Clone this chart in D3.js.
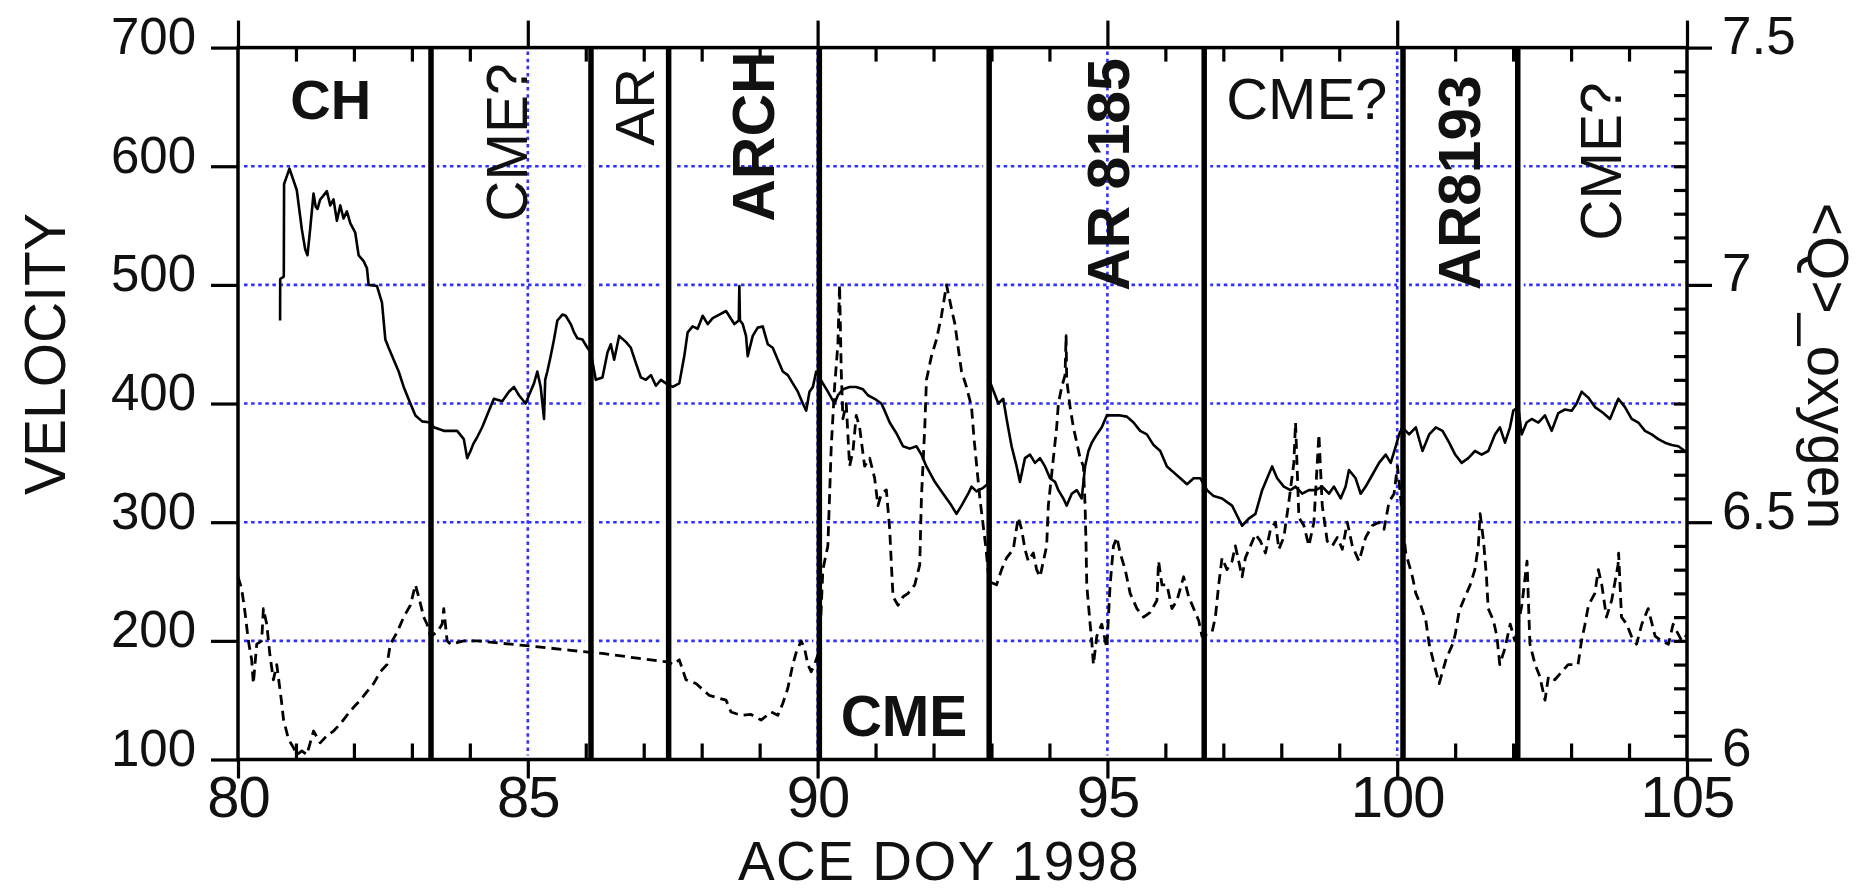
<!DOCTYPE html>
<html>
<head>
<meta charset="utf-8">
<script src="https://cdn.jsdelivr.net/npm/d3@7"></script>
<style>
  html, body { margin: 0; padding: 0; background: #fff; }
  svg { display: block; }
  text { font-family: "Liberation Sans", Arial, Helvetica, sans-serif; fill: #111; }
</style>
</head>
<body>
<script>
// ACE solar wind speed (km/s) vs day of year 1998
const velocity = [
  [80.726,470],[80.728,505],[80.790,507],[80.795,585],[80.888,598],[81.014,580],[81.101,547],[81.159,530],
  [81.199,525],[81.245,547],[81.303,577],[81.340,566],[81.372,564],[81.418,572],[81.470,575],[81.533,579],
  [81.591,567],[81.648,572],[81.706,554],[81.764,567],[81.821,556],[81.879,562],[81.937,552],[82.023,544],
  [82.081,525],[82.167,520],[82.225,514],[82.254,500],[82.398,499],[82.484,485],[82.542,454],[82.599,447],
  [82.686,437],[82.772,427],[82.859,414],[82.974,400],[83.061,390],[83.176,385],[83.320,384],[83.378,380],
  [83.550,377],[83.781,377],[83.896,370],[83.954,354],[84.012,360],[84.060,366],[84.130,372],[84.213,380],
  [84.329,394],[84.415,404],[84.559,402],[84.674,410],[84.761,414],[84.847,407],[84.963,400],[85.020,407],
  [85.107,417],[85.164,427],[85.222,414],[85.280,387],[85.300,420],[85.337,427],[85.395,440],[85.452,454],
  [85.510,470],[85.597,475],[85.654,474],[85.741,467],[85.798,460],[85.856,455],[85.942,454],[86.029,447],
  [86.087,443],[86.173,420],[86.288,422],[86.375,443],[86.432,450],[86.490,437],[86.576,457],[86.692,452],
  [86.778,447],[86.865,434],[86.951,422],[87.037,420],[87.124,424],[87.210,415],[87.297,420],[87.383,417],
  [87.499,414],[87.614,417],[87.700,440],[87.758,460],[87.844,465],[87.931,463],[88.017,474],[88.104,467],
  [88.190,472],[88.305,475],[88.420,478],[88.564,467],[88.640,470],[88.650,499],[88.660,470],[88.708,467],
  [88.765,457],[88.794,440],[88.881,457],[88.967,464],[89.053,465],[89.140,450],[89.226,447],[89.313,437],
  [89.399,427],[89.486,424],[89.572,417],[89.659,410],[89.745,400],[89.803,394],[89.860,410],[89.918,414],
  [89.976,427],[90.030,422],[90.091,417],[90.177,410],[90.293,400],[90.350,407],[90.437,412],[90.552,414],
  [90.667,414],[90.783,412],[90.869,407],[90.984,404],[91.100,400],[91.157,394],[91.244,384],[91.359,375],
  [91.474,364],[91.590,362],[91.705,364],[91.791,357],[91.878,347],[92.022,334],[92.166,324],[92.310,314],
  [92.396,307],[92.483,314],[92.598,324],[92.656,330],[92.742,326],[92.857,329],[92.930,332],[92.960,420],
  [93.040,410],[93.117,400],[93.203,404],[93.261,387],[93.347,364],[93.434,347],[93.491,334],[93.578,354],
  [93.664,357],[93.751,350],[93.837,354],[93.923,347],[94.010,337],[94.096,334],[94.154,327],[94.240,320],
  [94.298,314],[94.385,324],[94.471,327],[94.557,320],[94.615,347],[94.673,360],[94.730,367],[94.817,374],
  [94.903,380],[94.990,390],[95.105,390],[95.220,390],[95.336,389],[95.451,384],[95.566,377],[95.681,374],
  [95.797,365],[95.912,360],[96.027,347],[96.143,342],[96.258,337],[96.373,332],[96.488,337],[96.604,337],
  [96.719,327],[96.834,322],[96.978,320],[97.151,314],[97.324,297],[97.439,303],[97.554,307],[97.670,327],
  [97.756,337],[97.842,347],[97.929,337],[98.044,330],[98.159,327],[98.246,330],[98.361,324],[98.476,327],
  [98.592,327],[98.707,330],[98.822,324],[98.909,330],[99.024,320],[99.110,330],[99.168,344],[99.283,337],
  [99.370,324],[99.456,330],[99.572,340],[99.687,350],[99.802,357],[99.888,350],[99.975,364],[100.033,374],
  [100.090,380],[100.206,374],[100.321,380],[100.436,360],[100.552,374],[100.667,380],[100.782,377],[100.897,367],
  [101.000,357],[101.112,350],[101.227,354],[101.342,360],[101.457,357],[101.572,360],[101.687,374],[101.773,380],
  [101.860,367],[101.946,380],[102.003,394],[102.090,397],[102.147,374],[102.233,384],[102.320,387],[102.435,384],
  [102.550,390],[102.665,377],[102.780,392],[102.895,395],[103.010,394],[103.096,400],[103.182,410],[103.297,405],
  [103.412,397],[103.556,392],[103.671,387],[103.815,404],[103.930,397],[104.045,387],[104.160,384],[104.275,377],
  [104.390,374],[104.505,370],[104.620,367],[104.735,365],[104.850,364],[104.965,360]
];

// mean oxygen charge state <Q>_oxygen vs day of year
const oxygenQ = [
  [80.000,6.385],[80.063,6.360],[80.121,6.310],[80.179,6.250],[80.236,6.210],[80.265,6.160],[80.323,6.243],[80.409,6.250],
  [80.438,6.318],[80.496,6.285],[80.553,6.218],[80.611,6.168],[80.669,6.200],[80.755,6.118],[80.784,6.085],[80.870,6.043],
  [80.957,6.025],[81.014,6.010],[81.101,6.018],[81.187,6.010],[81.303,6.060],[81.418,6.035],[81.533,6.050],[81.648,6.060],
  [81.764,6.075],[81.879,6.093],[81.994,6.110],[82.110,6.125],[82.225,6.143],[82.340,6.160],[82.455,6.185],[82.571,6.200],
  [82.628,6.243],[82.744,6.268],[82.859,6.300],[82.974,6.325],[83.061,6.368],[83.118,6.343],[83.205,6.300],[83.262,6.285],
  [83.320,6.260],[83.435,6.268],[83.522,6.285],[83.550,6.318],[83.608,6.250],[83.666,6.243],[83.896,6.250],[84.127,6.250],
  [84.530,6.245],[85.135,6.238],[85.741,6.230],[86.317,6.223],[86.922,6.213],[87.441,6.205],[87.499,6.200],[87.614,6.210],
  [87.729,6.168],[87.902,6.160],[88.133,6.135],[88.421,6.125],[88.506,6.100],[88.679,6.093],[88.852,6.095],[89.025,6.083],
  [89.198,6.100],[89.313,6.093],[89.399,6.118],[89.486,6.150],[89.572,6.200],[89.630,6.225],[89.716,6.250],[89.774,6.235],
  [89.832,6.200],[89.889,6.185],[89.947,6.200],[90.030,6.230],[90.091,6.400],[90.177,6.450],[90.235,6.658],[90.293,6.785],
  [90.350,6.875],[90.379,7.000],[90.408,6.818],[90.437,6.718],[90.494,6.750],[90.552,6.618],[90.610,6.650],[90.667,6.725],
  [90.725,6.700],[90.811,6.618],[90.898,6.635],[90.984,6.593],[91.042,6.535],[91.100,6.560],[91.186,6.568],[91.244,6.485],
  [91.273,6.410],[91.302,6.343],[91.388,6.325],[91.474,6.343],[91.561,6.350],[91.676,6.368],[91.762,6.410],[91.791,6.550],
  [91.849,6.700],[91.878,6.800],[91.964,6.850],[92.051,6.885],[92.137,6.935],[92.224,7.000],[92.310,6.950],[92.368,6.918],
  [92.425,6.868],[92.483,6.818],[92.569,6.785],[92.656,6.743],[92.700,6.675],[92.800,6.550],[92.900,6.450],[92.960,6.375],
  [93.088,6.368],[93.174,6.400],[93.261,6.425],[93.376,6.443],[93.462,6.510],[93.520,6.485],[93.578,6.443],[93.635,6.418],
  [93.722,6.435],[93.779,6.400],[93.837,6.385],[93.952,6.450],[93.981,6.535],[94.068,6.635],[94.125,6.700],[94.154,6.750],
  [94.212,6.785],[94.269,6.810],[94.287,6.893],[94.298,6.800],[94.356,6.743],[94.413,6.700],[94.471,6.668],[94.529,6.635],
  [94.586,6.618],[94.615,6.535],[94.632,6.450],[94.644,6.368],[94.702,6.285],[94.730,6.250],[94.759,6.200],[94.817,6.260],
  [94.903,6.285],[94.990,6.235],[95.047,6.368],[95.105,6.450],[95.163,6.468],[95.220,6.435],[95.307,6.400],[95.393,6.350],
  [95.509,6.318],[95.624,6.300],[95.739,6.310],[95.854,6.335],[95.883,6.418],[95.941,6.368],[96.027,6.368],[96.114,6.318],
  [96.200,6.335],[96.315,6.385],[96.402,6.343],[96.488,6.318],[96.575,6.293],[96.632,6.260],[96.805,6.268],[96.863,6.300],
  [96.920,6.368],[96.978,6.425],[97.064,6.400],[97.151,6.418],[97.208,6.450],[97.324,6.385],[97.381,6.425],[97.468,6.450],
  [97.554,6.475],[97.641,6.460],[97.727,6.435],[97.814,6.485],[97.900,6.500],[97.958,6.443],[98.044,6.468],[98.131,6.543],
  [98.217,6.625],[98.246,6.710],[98.304,6.510],[98.390,6.493],[98.476,6.450],[98.563,6.500],[98.649,6.685],[98.707,6.535],
  [98.793,6.460],[98.880,6.450],[98.966,6.468],[99.053,6.443],[99.139,6.500],[99.226,6.450],[99.341,6.418],[99.456,6.468],
  [99.572,6.493],[99.687,6.500],[99.773,6.485],[99.860,6.543],[99.946,6.560],[100.004,6.618],[100.061,6.550],[100.119,6.468],
  [100.148,6.435],[100.206,6.410],[100.263,6.385],[100.321,6.350],[100.407,6.325],[100.494,6.293],[100.552,6.243],[100.638,6.200],
  [100.724,6.160],[100.840,6.210],[100.955,6.243],[101.000,6.263],[101.070,6.313],[101.170,6.343],[101.260,6.368],[101.340,6.400],
  [101.400,6.450],[101.430,6.518],[101.490,6.460],[101.540,6.385],[101.570,6.318],[101.660,6.293],[101.720,6.260],[101.770,6.200],
  [101.860,6.235],[101.950,6.285],[102.030,6.250],[102.150,6.325],[102.240,6.418],[102.290,6.243],[102.380,6.200],[102.460,6.175],
  [102.550,6.125],[102.610,6.175],[102.720,6.168],[102.840,6.185],[102.950,6.200],[103.120,6.200],[103.180,6.250],[103.240,6.285],
  [103.300,6.325],[103.410,6.350],[103.470,6.400],[103.530,6.368],[103.610,6.300],[103.700,6.335],[103.810,6.410],[103.820,6.435],
  [103.870,6.300],[103.960,6.285],[104.040,6.260],[104.130,6.243],[104.220,6.285],[104.330,6.318],[104.450,6.260],[104.560,6.250],
  [104.680,6.243],[104.760,6.285],[104.910,6.250],[105.000,6.263]
];

// interval boundaries (day of year)
const boundaries = [83.33, 86.09, 87.43, 90.03, 92.96, 96.67, 100.10, 102.08];

// interval annotations: [text, x (doy), y (km/s scale), rotated, bold, size]
const annotations = [
  ["CH",      81.60, 640, false, true,  56],
  ["CME?",    84.98, 620, true,  false, 57],
  ["AR",      87.18, 650, true,  false, 56],
  ["ARCH",    89.24, 625, true,  true,  59],
  ["AR 8185", 95.38, 593, true,  true,  59],
  ["CME?",    98.44, 640, false, false, 58],
  ["AR8193", 101.43, 586, true,  true,  58.5],
  ["CME?",   103.86, 604, true,  false, 57],
  ["CME",     91.49, 120, false, true,  57]
];

const xTicks = [80, 85, 90, 95, 100, 105];
const xMinorTicks = d3.range(81, 105).filter(d => d % 5 !== 0);
const velTicks = [100, 200, 300, 400, 500, 600, 700];
const velGrid = [200, 300, 400, 500, 600];
const doyGrid = [85, 90, 95, 100];
const qTicks = [6, 6.5, 7, 7.5];
const qMinorTicks = d3.range(0, 31).filter(i => i % 10 !== 0).map(i => 6 + i * 0.05);

const W = 1866, H = 893;
const svg = d3.select("body").append("svg").attr("width", W).attr("height", H);

const x = d3.scaleLinear().domain([80, 105]).range([238, 1687]);
const yV = d3.scaleLinear().domain([100, 700]).range([759.5, 47.6]);
const yQ = d3.scaleLinear().domain([6, 7.5]).range([759.5, 47.6]);

const x0 = x(80), x1 = x(105), yTop = yV(700), yBot = yV(100);

// horizontal dotted grid
svg.append("g").selectAll("line").data(velGrid).join("line")
  .attr("x1", x0 + 6).attr("x2", x1 - 6)
  .attr("y1", d => yV(d)).attr("y2", d => yV(d))
  .attr("stroke", "#3030ff").attr("stroke-width", 2.6).attr("stroke-dasharray", "3.5,3.6");

// white gaps beside the interval boundaries
svg.append("g").selectAll("line").data(boundaries).join("line")
  .attr("x1", d => x(d)).attr("x2", d => x(d))
  .attr("y1", yTop).attr("y2", yBot)
  .attr("stroke", "#fff").attr("stroke-width", 12);

// vertical dotted grid
svg.append("g").selectAll("line").data(doyGrid).join("line")
  .attr("x1", d => x(d)).attr("x2", d => x(d))
  .attr("y1", yTop + 4).attr("y2", yBot - 4)
  .attr("stroke", "#3030ff").attr("stroke-width", 2.6).attr("stroke-dasharray", "3.5,3.6");

// data lines
const velLine = d3.line().x(d => x(d[0])).y(d => yV(d[1]));
const qLine = d3.line().x(d => x(d[0])).y(d => yQ(d[1]));

svg.append("path").datum(oxygenQ).attr("d", qLine)
  .attr("fill", "none").attr("stroke", "#000").attr("stroke-width", 2.8)
  .attr("stroke-dasharray", "10,6").attr("stroke-linejoin", "round");

svg.append("path").datum(velocity).attr("d", velLine)
  .attr("fill", "none").attr("stroke", "#000").attr("stroke-width", 2.6)
  .attr("stroke-linejoin", "round");

// interval boundaries
svg.append("g").selectAll("line").data(boundaries).join("line")
  .attr("x1", d => x(d)).attr("x2", d => x(d))
  .attr("y1", yTop).attr("y2", yBot)
  .attr("stroke", "#000").attr("stroke-width", 5.5);

// frame
svg.append("rect").attr("x", x0).attr("y", yTop).attr("width", x1 - x0).attr("height", yBot - yTop)
  .attr("fill", "none").attr("stroke", "#000").attr("stroke-width", 3.5);

function styleAxis(g, size) {
  g.select(".domain").remove();
  g.selectAll("line").attr("stroke", "#000").attr("stroke-width", 3.2);
  g.attr("font-family", null).attr("font-size", null);
  g.selectAll("text").attr("font-size", size).attr("fill", "#111");
}

// left axis (velocity)
const gL = svg.append("g").attr("transform", `translate(${x0},0)`)
  .call(d3.axisLeft(yV).tickValues(velTicks).tickSize(27).tickPadding(15).tickFormat(d3.format("d")));
styleAxis(gL, 51);
gL.selectAll("text").attr("dy", 6);

// right axis (oxygen charge state)
const gR = svg.append("g").attr("transform", `translate(${x1},0)`)
  .call(d3.axisRight(yQ).tickValues(qTicks).tickSize(25).tickPadding(10).tickFormat(d3.format("~g")));
styleAxis(gR, 53);
gR.selectAll("text").attr("dy", 6);

const gRm = svg.append("g").attr("transform", `translate(${x1},0)`)
  .call(d3.axisRight(yQ).tickValues(qMinorTicks).tickSize(-13).tickFormat(""));
styleAxis(gRm, 10);

// bottom axis
const gB = svg.append("g").attr("transform", `translate(0,${yBot})`)
  .call(d3.axisBottom(x).tickValues(xTicks).tickSize(19).tickFormat(d3.format("d")));
styleAxis(gB, 58);
gB.selectAll("text").attr("y", 57).attr("dy", 0).attr("letter-spacing", -1);

const gBm = svg.append("g").attr("transform", `translate(0,${yBot})`)
  .call(d3.axisBottom(x).tickValues(xMinorTicks).tickSize(-16).tickFormat(""));
styleAxis(gBm, 10);

// top axis
const gT = svg.append("g").attr("transform", `translate(0,${yTop})`)
  .call(d3.axisTop(x).tickValues(xTicks).tickSize(27).tickFormat(""));
styleAxis(gT, 10);

const gTm = svg.append("g").attr("transform", `translate(0,${yTop})`)
  .call(d3.axisTop(x).tickValues(xMinorTicks).tickSize(-14).tickFormat(""));
styleAxis(gTm, 10);

// axis titles
svg.append("text").attr("transform", "translate(65,354) rotate(-90)")
  .attr("text-anchor", "middle").attr("font-size", 57).text("VELOCITY");

svg.append("text").attr("x", 939).attr("y", 880)
  .attr("text-anchor", "middle").attr("font-size", 55).attr("letter-spacing", 1.5).text("ACE DOY 1998");

svg.append("text").attr("transform", "translate(1808,366) rotate(90)")
  .attr("text-anchor", "middle").attr("font-size", 57).text("<Q>_oxygen");

// interval annotations
svg.append("g").selectAll("text").data(annotations).join("text")
  .attr("transform", d => d[3]
      ? `translate(${x(d[1])},${yV(d[2])}) rotate(-90)`
      : `translate(${x(d[1])},${yV(d[2])})`)
  .attr("text-anchor", "middle")
  .attr("font-weight", d => d[4] ? "bold" : "normal")
  .attr("font-size", d => d[5])
  .attr("fill", d => d[4] ? "#000" : "#222")
  .text(d => d[0]);
</script>
</body>
</html>
